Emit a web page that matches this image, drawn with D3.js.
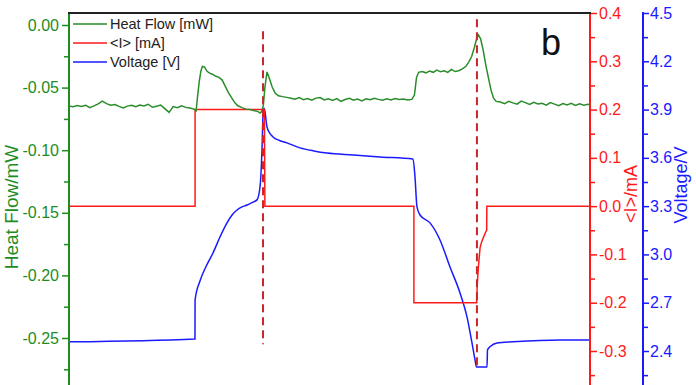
<!DOCTYPE html>
<html>
<head>
<meta charset="utf-8">
<script src="https://cdn.jsdelivr.net/npm/d3@7"></script>
<style>
  body { margin: 0; background: #fff; }
  svg { display: block; font-family: "Liberation Sans", Arial, sans-serif; }
</style>
</head>
<body>
<div id="chart"></div>
<script>
// time in arbitrary units (0..100)
var heatFlow = [
    [0, -0.0648], [0.8, -0.0652], [1.6, -0.0644], [2.4, -0.0650], [3.2, -0.0641], [4.0, -0.0660],
    [4.8, -0.0646], [5.6, -0.0630], [6.4, -0.0608], [7.2, -0.0628], [8.0, -0.0640], [8.8, -0.0636],
    [9.6, -0.0650], [10.4, -0.0662], [11.2, -0.0648], [12.0, -0.0641], [12.8, -0.0652], [13.6, -0.0639],
    [14.4, -0.0646], [15.2, -0.0633], [16.0, -0.0657], [16.8, -0.0649], [17.6, -0.0640], [18.4, -0.0668],
    [19.2, -0.0698], [20.0, -0.0652], [20.8, -0.0660], [21.6, -0.0645], [22.4, -0.0658], [23.2, -0.0663],
    [24.0, -0.0672], [24.4, -0.0685],
    [24.6, -0.0600], [25.0, -0.0450], [25.3, -0.0370], [25.6, -0.0330], [26.0, -0.0335], [26.5, -0.0370],
    [27.0, -0.0385], [27.6, -0.0395], [28.2, -0.0410], [28.8, -0.0418], [29.4, -0.0440], [30.0, -0.0490],
    [30.6, -0.0540], [31.2, -0.0580], [31.8, -0.0620], [32.4, -0.0645], [33.2, -0.0660], [34.0, -0.0672],
    [34.8, -0.0675], [35.6, -0.0685], [36.2, -0.0690], [36.7, -0.0703], [37.0, -0.0690], [37.3, -0.0640],
    [37.6, -0.0500], [38.0, -0.0375], [38.4, -0.0420], [39.0, -0.0495], [39.6, -0.0545], [40.2, -0.0565],
    [41.0, -0.0572], [41.8, -0.0578],
    [42.6, -0.0585], [43.4, -0.0592], [44.2, -0.0580], [45.0, -0.0596], [45.8, -0.0587], [46.6, -0.0600],
    [47.4, -0.0584], [48.2, -0.0579], [49.0, -0.0598], [49.8, -0.0590], [50.6, -0.0602], [51.4, -0.0588],
    [52.2, -0.0610], [53.0, -0.0595], [53.8, -0.0585], [54.6, -0.0600], [55.4, -0.0592], [56.2, -0.0606],
    [57.0, -0.0589], [57.8, -0.0597], [58.6, -0.0585], [59.4, -0.0594], [60.2, -0.0601], [61.0, -0.0590],
    [61.8, -0.0598], [62.6, -0.0587], [63.4, -0.0595], [64.2, -0.0592], [65.0, -0.0599], [65.8, -0.0594],
    [66.3, -0.0560], [66.7, -0.0420], [67.1, -0.0378], [67.8, -0.0372], [68.5, -0.0382], [69.2, -0.0368],
    [69.9, -0.0378], [70.6, -0.0360], [71.3, -0.0374], [72.0, -0.0366], [72.7, -0.0378], [73.4, -0.0355],
    [74.1, -0.0372], [74.8, -0.0365], [75.5, -0.0350], [76.2, -0.0330], [76.8, -0.0290], [77.3, -0.0250],
    [77.8, -0.0180], [78.3, -0.0100], [78.6, -0.0080], [79.0, -0.0110], [79.5, -0.0200], [80.0, -0.0320],
    [80.5, -0.0420], [81.0, -0.0520], [81.5, -0.0585], [82.0, -0.0610],
    [82.8, -0.0615], [83.6, -0.0628], [84.4, -0.0610], [85.2, -0.0622], [86.0, -0.0632], [86.8, -0.0608],
    [87.6, -0.0620], [88.4, -0.0635], [89.2, -0.0618], [90.0, -0.0630], [90.8, -0.0625], [91.6, -0.0640],
    [92.4, -0.0620], [93.2, -0.0632], [94.0, -0.0645], [94.8, -0.0628], [95.6, -0.0638], [96.4, -0.0625],
    [97.2, -0.0642], [98.0, -0.0630], [98.8, -0.0640], [99.6, -0.0634], [100, -0.0636]
];

var current = [
    [0, 0], [24.2, 0], [24.2, 0.2], [37.5, 0.2], [37.6, 0], [66.2, 0], [66.2, -0.2], [78.25, -0.2],
    [78.35, -0.165], [78.56, -0.128], [78.9, -0.086], [79.2, -0.074], [79.5, -0.066], [80.04, -0.052],
    [80.17, -0.05], [80.2, 0], [100, 0]
];

var voltage = [
    [0, 2.457], [24.18, 2.475], [24.2, 2.717], [25.14, 2.835], [26.3, 2.925], [27.64, 3.009],
    [29.0, 3.110], [30.33, 3.196], [31.3, 3.245], [32.25, 3.276], [33.2, 3.295], [34.17, 3.307],
    [35.1, 3.322], [36.08, 3.339], [36.66, 3.419], [37.04, 3.649], [37.24, 3.866], [37.43, 3.910],
    [37.62, 3.885], [38.0, 3.792], [38.5, 3.755], [39.16, 3.730], [40.4, 3.708], [41.84, 3.693],
    [44.34, 3.662], [47.0, 3.643], [49.52, 3.630], [54.51, 3.618], [59.69, 3.606], [66.03, 3.593],
    [66.41, 3.481], [66.79, 3.295], [67.37, 3.245], [69.29, 3.196], [71.21, 3.090], [73.13, 2.922],
    [75.05, 2.761], [76.39, 2.612], [77.35, 2.450], [77.93, 2.345], [78.21, 2.301], [80.23, 2.301],
    [80.33, 2.407], [80.81, 2.426], [82.15, 2.450], [85.22, 2.457], [94.24, 2.469], [100, 2.469]
];

// vertical dashed markers: time, top and bottom in current units
var markers = [[37.24, 0.362, -0.286], [78.3, 0.387, -0.335]];

var hfTicks = [-0.25, -0.20, -0.15, -0.10, -0.05, 0.00];
var iTicks = [-0.3, -0.2, -0.1, 0.0, 0.1, 0.2, 0.3, 0.4];
var vTicks = [2.4, 2.7, 3.0, 3.3, 3.6, 3.9, 4.2, 4.5];

var legendItems = [
    ["Heat Flow [mW]", "#2a8c2a"],
    ["<I> [mA]", "#ff1a1a"],
    ["Voltage [V]", "#1a1aff"]
];

(function () {
    var width = 696, height = 385;
    var green = "#2a8c2a", greenAxis = "#1e8c1e", red = "#ff1a1a", blue = "#1a1aff";

    var x = d3.scaleLinear().domain([0, 100]).range([69, 590]);
    var yHF = d3.scaleLinear().domain([-0.25, 0]).range([338, 25]);
    var yI = d3.scaleLinear().domain([-0.3, 0.4]).range([351, 13]);
    var yV = d3.scaleLinear().domain([2.4, 4.5]).range([351, 13]);

    var svg = d3.select("#chart").append("svg")
        .attr("width", width)
        .attr("height", height);

    function mids(arr) {
        var step = arr[1] - arr[0];
        var out = arr.map(function (d) { return d - step / 2; });
        out.push(arr[arr.length - 1] + step / 2);
        return out;
    }

    function drawAxis(gen, pos, color, fmt, ticks, minorTicks, majorLen, minorLen, pad) {
        var minor = svg.append("g").attr("transform", "translate(" + pos + ",0)")
            .call(gen.tickValues(minorTicks).tickSize(minorLen).tickFormat(""));
        minor.select(".domain").remove();
        minor.selectAll("line").attr("stroke", color).attr("stroke-width", 1.5);
        var major = svg.append("g").attr("transform", "translate(" + pos + ",0)")
            .call(gen.tickValues(ticks).tickSize(majorLen).tickPadding(pad).tickFormat(fmt).tickSizeOuter(0));
        major.select(".domain").remove();
        major.selectAll("line").attr("stroke", color).attr("stroke-width", 1.5);
        major.selectAll("text").attr("fill", color).style("font-size", "16px");
        svg.append("line")
            .attr("x1", pos).attr("x2", pos)
            .attr("y1", 12).attr("y2", height + 10)
            .attr("stroke", color).attr("stroke-width", 2);
    }

    drawAxis(d3.axisLeft(yHF), 69, greenAxis, function (d) { return d.toFixed(2); },
        hfTicks, mids(hfTicks).filter(function (d) { return d < 0; }), 7, 5, 3);
    drawAxis(d3.axisRight(yI), 590, red, function (d) { return d.toFixed(1); },
        iTicks, mids(iTicks).filter(function (d) { return d < 0.4; }), 7, 5, 2);
    drawAxis(d3.axisRight(yV), 643, blue, function (d) { return d.toFixed(1); },
        vTicks, mids(vTicks).filter(function (d) { return d < 4.5; }), 6, 5, 1);

    // top frame
    svg.append("line")
        .attr("x1", 68).attr("x2", 591)
        .attr("y1", 13).attr("y2", 13)
        .attr("stroke", "#222").attr("stroke-width", 2);

    svg.append("clipPath").attr("id", "plot")
        .append("rect").attr("x", 70).attr("y", 14).attr("width", 519).attr("height", height);

    var plot = svg.append("g").attr("clip-path", "url(#plot)");

    var lineHF = d3.line().x(d => x(d[0])).y(d => yHF(d[1]));
    var lineI = d3.line().x(d => x(d[0])).y(d => yI(d[1]));
    var lineV = d3.line().x(d => x(d[0])).y(d => yV(d[1])).curve(d3.curveMonotoneX);

    plot.append("path").datum(voltage)
        .attr("d", lineV).attr("fill", "none")
        .attr("stroke", blue).attr("stroke-width", 1.5);

    plot.append("path").datum(current)
        .attr("d", lineI).attr("fill", "none")
        .attr("stroke", red).attr("stroke-width", 1.5);

    plot.append("path").datum(heatFlow)
        .attr("d", lineHF).attr("fill", "none")
        .attr("stroke", green).attr("stroke-width", 1.5);

    plot.selectAll(".marker")
        .data(markers)
        .join("line")
        .attr("class", "marker")
        .attr("x1", d => x(d[0])).attr("x2", d => x(d[0]))
        .attr("y1", d => yI(d[1])).attr("y2", d => yI(d[2]))
        .attr("stroke", "#c8262b")
        .attr("stroke-width", 2)
        .attr("stroke-dasharray", "8,5");

    // legend
    var legend = svg.append("g");
    legendItems.forEach(function (d, i) {
        var yy = 24 + i * 19;
        legend.append("line")
            .attr("x1", 73).attr("x2", 107)
            .attr("y1", yy).attr("y2", yy)
            .attr("stroke", d[1]).attr("stroke-width", 1.5);
        legend.append("text")
            .attr("x", 110).attr("y", yy + 5)
            .attr("fill", "#222")
            .style("font-size", "14.5px")
            .text(d[0]);
    });

    svg.append("text")
        .attr("x", 541).attr("y", 55)
        .style("font-size", "36px")
        .attr("fill", "#111")
        .text("b");

    // axis titles
    svg.append("text")
        .attr("transform", "translate(18,207) rotate(-90)")
        .attr("text-anchor", "middle")
        .attr("fill", greenAxis)
        .style("font-size", "19px")
        .text("Heat Flow/mW");

    svg.append("text")
        .attr("transform", "translate(637,194) rotate(-90)")
        .attr("text-anchor", "middle")
        .attr("fill", red)
        .style("font-size", "18px")
        .text("<I>/mA");

    svg.append("text")
        .attr("transform", "translate(687,185) rotate(-90)")
        .attr("text-anchor", "middle")
        .attr("fill", blue)
        .style("font-size", "18px")
        .text("Voltage/V");
})();
</script>
</body>
</html>
